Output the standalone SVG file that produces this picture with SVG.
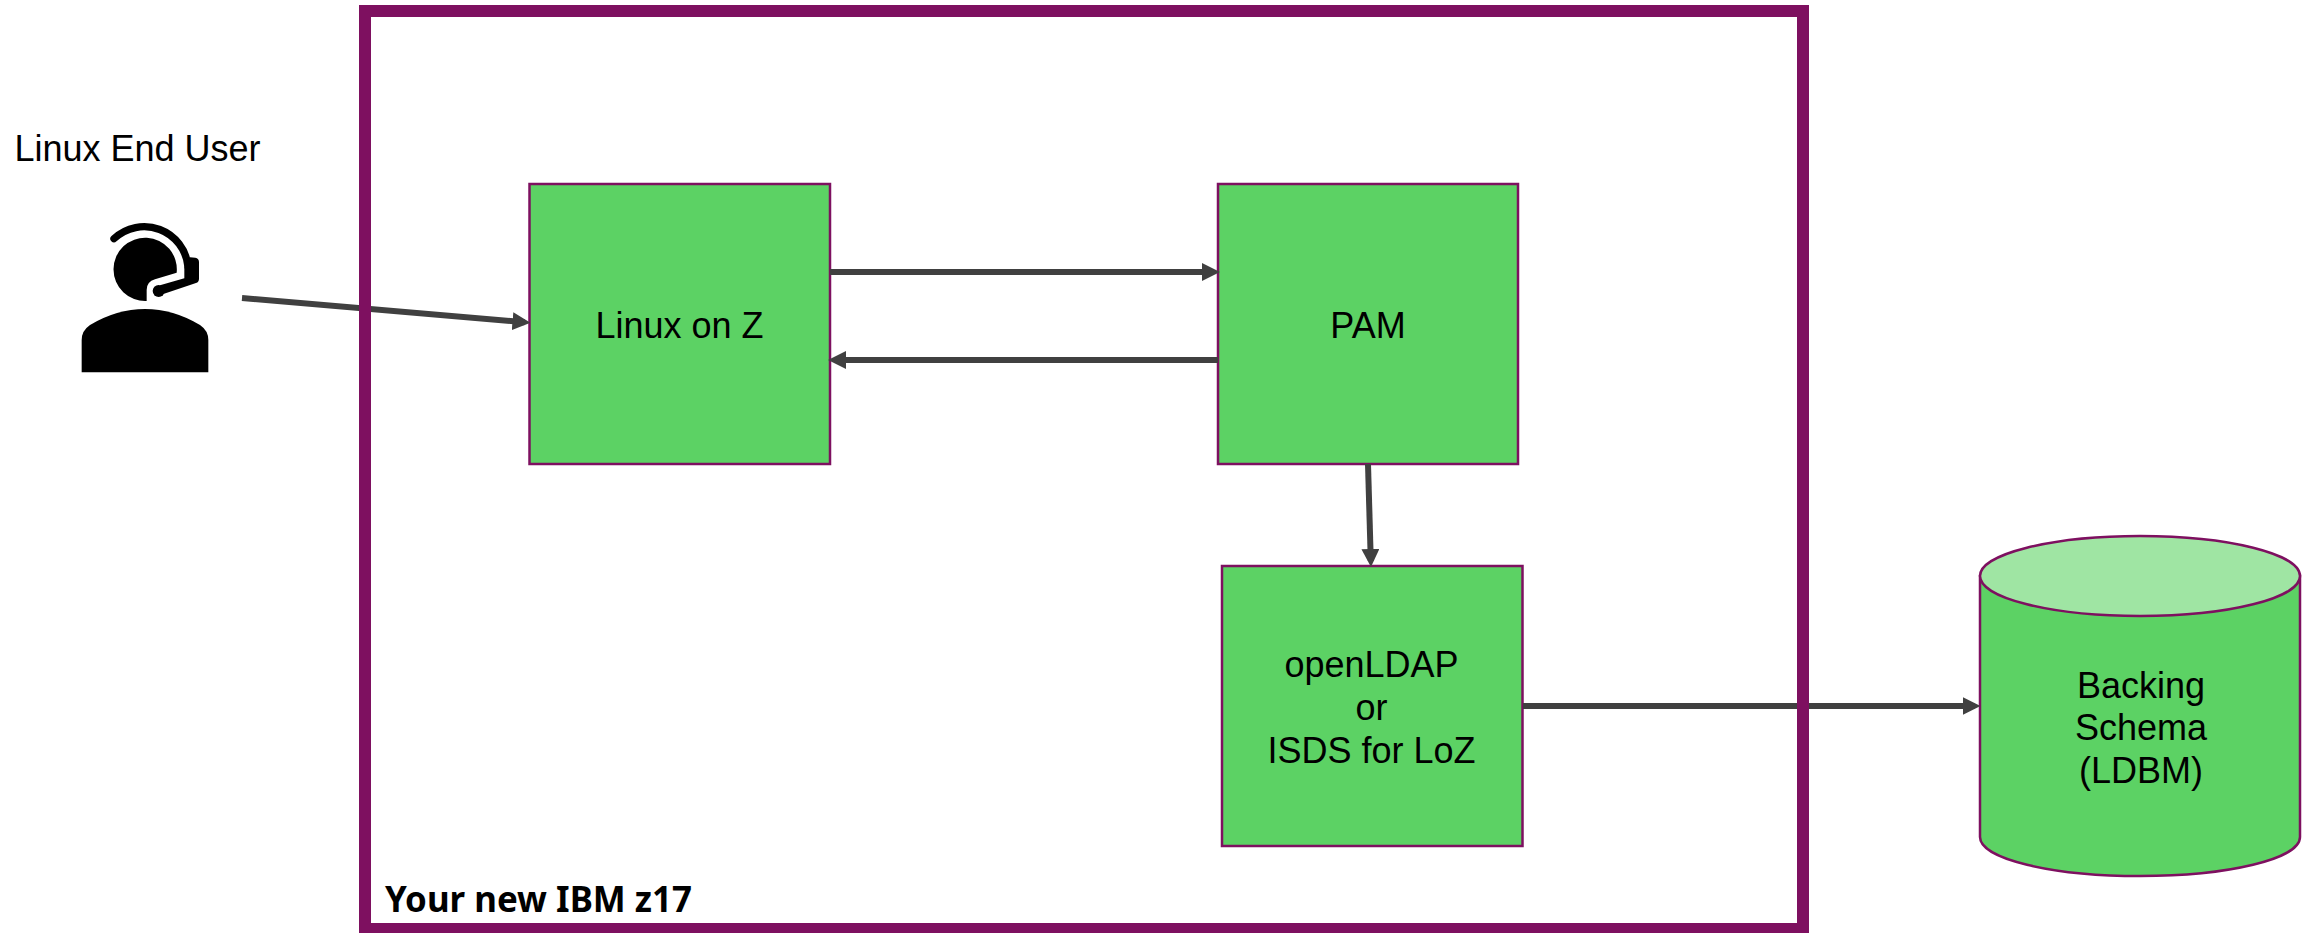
<svg xmlns="http://www.w3.org/2000/svg" width="2310" height="933" viewBox="0 0 2310 933">
<style>
text{font-family:"Liberation Sans",Arial,sans-serif;font-size:36px;fill:#000;text-anchor:middle}
.box{fill:#5cd264;stroke:#7e1060;stroke-width:2.5}
.top{fill:#9fe5a3;stroke:#7e1060;stroke-width:2.5}
.conn{fill:none;stroke:#404040;stroke-width:6;marker-end:url(#arrow)}
</style>
<defs>
<marker id="arrow" markerUnits="userSpaceOnUse" markerWidth="18" markerHeight="18" refX="12" refY="9" orient="auto"><path d="M0 0L18 9L0 18Z" fill="#404040"/></marker>
</defs>
<rect width="2310" height="933" fill="#fff"/>
<g id="user-label"><text x="137.5" y="161">Linux End User</text></g>
<g id="user-icon" transform="translate(0 110) scale(.33333)" fill="#000">
<path d="M530 488A95 95 0 1 0 440 573V540Q440 515 465 508Z"/>
<path d="M342 386A132 132 0 0 1 564 470" fill="none" stroke="#000" stroke-width="22" stroke-linecap="round"/>
<path d="M570 442L586 443Q597 445 597 456V506Q597 516 588 519L490 552L480 526L553 505V470Z"/>
<circle cx="476" cy="543" r="18"/>
<path d="M245 787V690Q245 662 270 645Q350 597 435 597Q520 597 600 645Q625 662 625 690V787Z"/>
</g>
<g id="linux-on-z"><rect class="box" x="529.5" y="184" width="300.5" height="280"/><text x="679.5" y="338">Linux on Z</text></g>
<g id="pam"><rect class="box" x="1218" y="184" width="300" height="280"/><text x="1368" y="338">PAM</text></g>
<g id="openldap"><rect class="box" x="1222" y="566" width="300.5" height="280"/><text x="1371.5" y="677">openLDAP</text><text x="1371.5" y="720">or</text><text x="1371.5" y="763">ISDS for LoZ</text></g>
<g id="backing-schema"><path class="box" d="M1980 576V837C1980 859 2052 876 2140 876S2300 859 2300 837V576Z"/><ellipse class="top" cx="2140" cy="576" rx="160" ry="40"/><text x="2141" y="698">Backing</text><text x="2141" y="740">Schema</text><text x="2141" y="783">(LDBM)</text></g>
<g id="connectors">
<line class="conn" x1="242" y1="298" x2="524.5" y2="322.2"/>
<line class="conn" x1="830" y1="272" x2="1214" y2="272"/>
<line class="conn" x1="1218" y1="360" x2="834" y2="360"/>
<line class="conn" x1="1368" y1="464" x2="1370.8" y2="561"/>
<line class="conn" x1="1523" y1="706" x2="1974.5" y2="706"/>
</g>
<g id="z17-frame"><rect x="365" y="11" width="1438" height="918" fill="none" stroke="#7e1060" stroke-width="12"/><text x="385" y="912" style="font-family:'Noto Sans',sans-serif;font-weight:700;font-size:35px;text-anchor:start" textLength="307" lengthAdjust="spacingAndGlyphs">Your new IBM z17</text></g>
</svg>
